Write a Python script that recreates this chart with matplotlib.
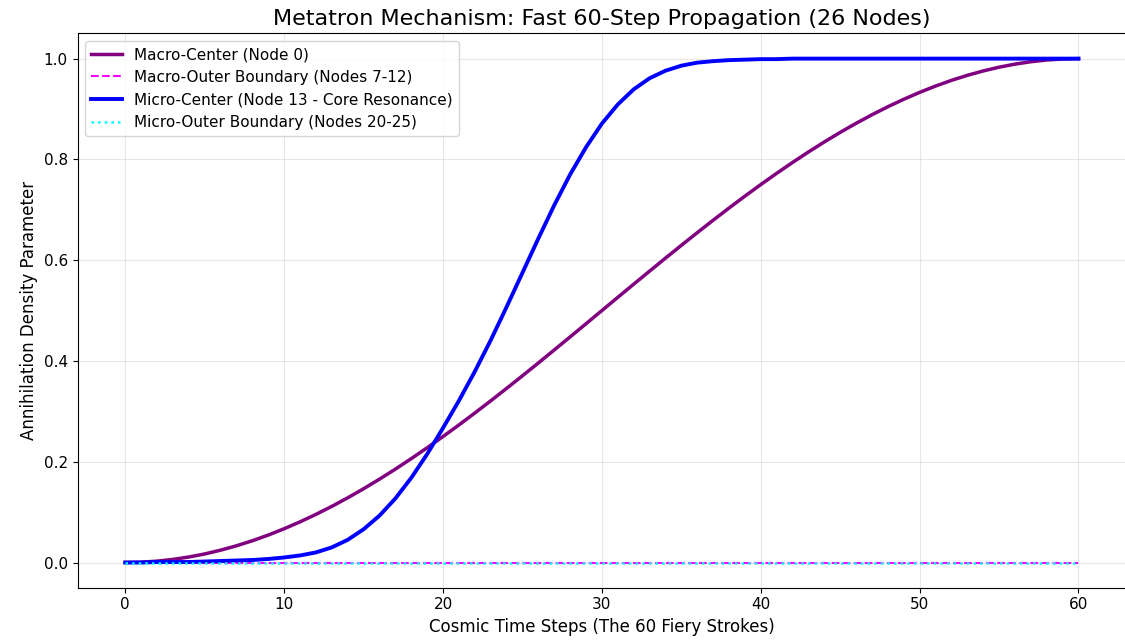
import numpy as np
import matplotlib
matplotlib.use('Agg')
import matplotlib.pyplot as plt

# Time steps 0..60
steps = list(range(61))

# Macro-Center (Node 0)
macro_center = [
    0.0000, 0.0007, 0.0027, 0.0062, 0.0109, 0.0170, 0.0245, 0.0332, 0.0432, 0.0545,
    0.0670, 0.0807, 0.0955, 0.1114, 0.1284, 0.1464, 0.1654, 0.1853, 0.2061, 0.2277,
    0.2500, 0.2730, 0.2966, 0.3208, 0.3455, 0.3706, 0.3960, 0.4218, 0.4477, 0.4738,
    0.5000, 0.5262, 0.5523, 0.5782, 0.6040, 0.6294, 0.6545, 0.6792, 0.7034, 0.7270,
    0.7500, 0.7723, 0.7939, 0.8147, 0.8346, 0.8536, 0.8716, 0.8886, 0.9045, 0.9193,
    0.9330, 0.9455, 0.9568, 0.9668, 0.9755, 0.9830, 0.9891, 0.9938, 0.9973, 0.9993,
    1.0000,
]

# Micro-Center (Node 13 - Core Resonance)
micro_center = [
    0.000, 0.000, 0.001, 0.001, 0.001, 0.002, 0.003, 0.004, 0.005, 0.007,
    0.010, 0.014, 0.020, 0.030, 0.045, 0.066, 0.093, 0.127, 0.168, 0.215,
    0.267, 0.321, 0.379, 0.441, 0.507, 0.575, 0.643, 0.709, 0.770, 0.824,
    0.871, 0.909, 0.939, 0.961, 0.976, 0.986, 0.992, 0.995, 0.997, 0.998,
    0.999, 0.999, 1.000, 1.000, 1.000, 1.000, 1.000, 1.000, 1.000, 1.000,
    1.000, 1.000, 1.000, 1.000, 1.000, 1.000, 1.000, 1.000, 1.000, 1.000,
    1.000,
]

# Outer boundaries stay at zero
macro_outer = [0.0] * 61
micro_outer = [0.0] * 61

fig, ax = plt.subplots(figsize=(11.25, 6.43), dpi=100)

ax.plot(steps, macro_center, color='purple', linewidth=2.5, label='Macro-Center (Node 0)')
ax.plot(steps, macro_outer, color='magenta', linestyle='--', linewidth=1.5,
        label='Macro-Outer Boundary (Nodes 7-12)')
ax.plot(steps, micro_center, color='blue', linewidth=2.8,
        label='Micro-Center (Node 13 - Core Resonance)')
ax.plot(steps, micro_outer, color='cyan', linestyle=':', linewidth=1.8,
        label='Micro-Outer Boundary (Nodes 20-25)')

ax.set_title('Metatron Mechanism: Fast 60-Step Propagation (26 Nodes)', fontsize=16)
ax.set_xlabel('Cosmic Time Steps (The 60 Fiery Strokes)', fontsize=12)
ax.set_ylabel('Annihilation Density Parameter', fontsize=12)
ax.tick_params(labelsize=11)
ax.grid(True, alpha=0.3)
ax.legend(loc='upper left', fontsize=11)

plt.subplots_adjust(left=0.069, right=1.001, top=0.948, bottom=0.086)
plt.savefig('out.png', dpi=100)
